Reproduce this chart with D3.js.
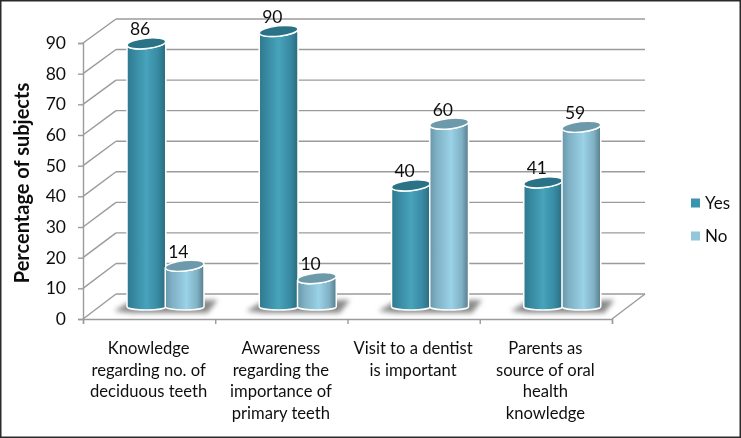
<!DOCTYPE html>
<html><head><meta charset="utf-8">
<script src="https://d3js.org/d3.v7.min.js"></script>
<style>html,body{margin:0;padding:0;background:#fff}svg{display:block}text{font-family:Lato,"Open Sans",sans-serif;fill:#111}</style>
</head><body><svg id="c" width="741" height="438"></svg>
<script>
const categories = [
  ["Knowledge","regarding no. of","deciduous teeth"],
  ["Awareness","regarding the","importance of","primary teeth"],
  ["Visit to a dentist","is important"],
  ["Parents as","source of oral","health","knowledge"]
];
const yesValues = [86,90,40,41];
const noValues = [14,10,60,59];
const seriesNames = ["Yes","No"];
const yTicks = [0,10,20,30,40,50,60,70,80,90];
const yTitle = "Percentage of subjects";

const svg = d3.select("#c");
const defs = svg.append("defs");
const W=741,H=438;
const depthX=33;
const idx = categories.map((d,i)=>i);
const xFront = d3.scaleBand().domain(idx).range([83,612]);
const yFront = d3.scaleLinear().domain([0,90]).range([319,43]);
const yBack = d3.scaleLinear().domain([0,90]).range([294,19]);
const yBar = d3.scaleLinear().domain([0,90]).range([309,31]);
const xInner = d3.scaleBand().domain(seriesNames).range([44,120.5]);

function grad(id,stops){
  const g=defs.append("linearGradient").attr("id",id);
  stops.forEach(s=>g.append("stop").attr("offset",s[0]).attr("stop-color",s[1]));
}
grad("gYes",[[0,"#2f788e"],[.15,"#35869e"],[.5,"#47a3bb"],[.8,"#378aa2"],[1,"#2a6b7e"]]);
grad("gNo",[[0,"#6696a9"],[.18,"#7fb0c3"],[.55,"#9ad2e7"],[.82,"#80b1c4"],[1,"#567d8c"]]);
const blur=defs.append("filter").attr("id","bl").attr("x","-30%").attr("y","-80%").attr("width","160%").attr("height","260%");
blur.append("feGaussianBlur").attr("stdDeviation",2.4);
const soft=defs.append("filter").attr("id","soft");
soft.append("feGaussianBlur").attr("stdDeviation",.45);

const root = svg.append("g").attr("filter","url(#soft)");
const gridCol="#9b9b9b";

// frame
root.append("rect").attr("x",.75).attr("y",.75).attr("width",W-1.5).attr("height",H-1.5)
  .attr("fill","#fff").attr("stroke","#2a2a2a").attr("stroke-width",1.5);

// back-wall grid and side-wall lines
const grid=root.append("g").attr("stroke",gridCol).attr("stroke-width",1.4).attr("fill","none");
yTicks.forEach(t=>{
  grid.append("line").attr("x1",83+depthX).attr("x2",612+depthX).attr("y1",yBack(t)).attr("y2",yBack(t));
  grid.append("line").attr("x1",83).attr("x2",83+depthX).attr("y1",yFront(t)).attr("y2",yBack(t));
});
grid.append("line").attr("x1",612).attr("x2",612+depthX).attr("y1",yFront(0)).attr("y2",yBack(0));

// y axis
const yAxis = d3.axisLeft(yFront).tickValues(yTicks).tickSize(5).tickPadding(12);
const ga = root.append("g").attr("transform","translate(83,0)").call(yAxis);
ga.select(".domain").attr("stroke",gridCol).attr("stroke-width",1.4);
ga.selectAll("line").attr("stroke",gridCol).attr("stroke-width",1.4);
ga.selectAll("text").style("font-size","17.5px");

// x axis
const xAxis = d3.axisBottom(d3.scaleLinear().domain([0,4]).range([83,612])).tickValues([0,1,2,3,4]).tickSize(5).tickFormat("");
const gx = root.append("g").attr("transform","translate(0,319)").call(xAxis);
gx.select(".domain").attr("stroke",gridCol).attr("stroke-width",1.4);
gx.selectAll("line").attr("stroke",gridCol).attr("stroke-width",1.4);

// y title
root.append("text").attr("transform","translate(29,183) rotate(-90)").attr("text-anchor","middle")
  .style("font-size","20px").style("font-weight",700).text(yTitle);

// category labels
categories.forEach((lines,i)=>{
  const t=root.append("text").attr("text-anchor","middle").style("font-size","16.6px");
  lines.forEach((l,j)=>t.append("tspan").attr("x",xFront(i)+xFront.bandwidth()/2-.5).attr("y",354+j*21.7).text(l));
});

// bars
const ry=5.2, tilt=-6;
function bar(g,i,s,v){
  const x0=xFront(i)+xInner(s), w=xInner.bandwidth()+.5, x1=x0+w, cx=x0+w/2, rx=w/2;
  const yT=yBar(v), yB=yBar(0), dy=2;
  const f = s==="Yes"?"url(#gYes)":"url(#gNo)";
  g.append("path").attr("d",`M${x0},${yT+dy}L${x0},${yB-2.5}A${rx},3.6 0 0 0 ${x1},${yB-2.5}L${x1},${yT-dy}A${rx},${ry} ${tilt} 0 1 ${x0},${yT+dy}Z`)
    .attr("fill",f).attr("stroke","#fff").attr("stroke-width",1.5);
  g.append("ellipse").attr("cx",cx).attr("cy",yT).attr("rx",rx).attr("ry",ry)
    .attr("transform",`rotate(${tilt} ${cx} ${yT})`)
    .attr("fill",s==="Yes"?"#2c7387":"#6d9aaa").attr("stroke","#fff").attr("stroke-width",1.4);
}
// shadows
const shadow=root.append("g").attr("filter","url(#bl)");
idx.forEach(i=>{
  const x0=xFront(i)+xInner("Yes"), x1=xFront(i)+xInner("No")+xInner.bandwidth();
  const y0=yBar(0);
  shadow.append("path").attr("d",`M${x0-13},${y0+2}L${x0+4},${y0-8}L${x1+14},${y0-9}L${x1+4},${y0+4}L${x0+4},${y0+4}Z`).attr("fill","#8a8a8a");
});
const bars=root.append("g");
idx.forEach(i=>{
  bar(bars,i,"Yes",yesValues[i]);
  bar(bars,i,"No",noValues[i]);
});
// value labels
idx.forEach(i=>{
  [["Yes",yesValues[i]],["No",noValues[i]]].forEach(([s,v])=>{
    root.append("text").attr("x",xFront(i)+xInner(s)+xInner.bandwidth()/2-6).attr("y",yBar(v)-8)
      .attr("text-anchor","middle").style("font-size","17.5px").text(v);
  });
});
// legend
const legendY=d3.scalePoint().domain(seriesNames).range([203,236]);
seriesNames.forEach(s=>{
  root.append("rect").attr("x",691).attr("y",legendY(s)-4.5).attr("width",9).attr("height",9)
    .attr("fill",s==="Yes"?"#3a94ad":"#93c8dc");
  root.append("text").attr("x",705).attr("y",legendY(s)+6).style("font-size","17px").text(s);
});
</script></body></html>
